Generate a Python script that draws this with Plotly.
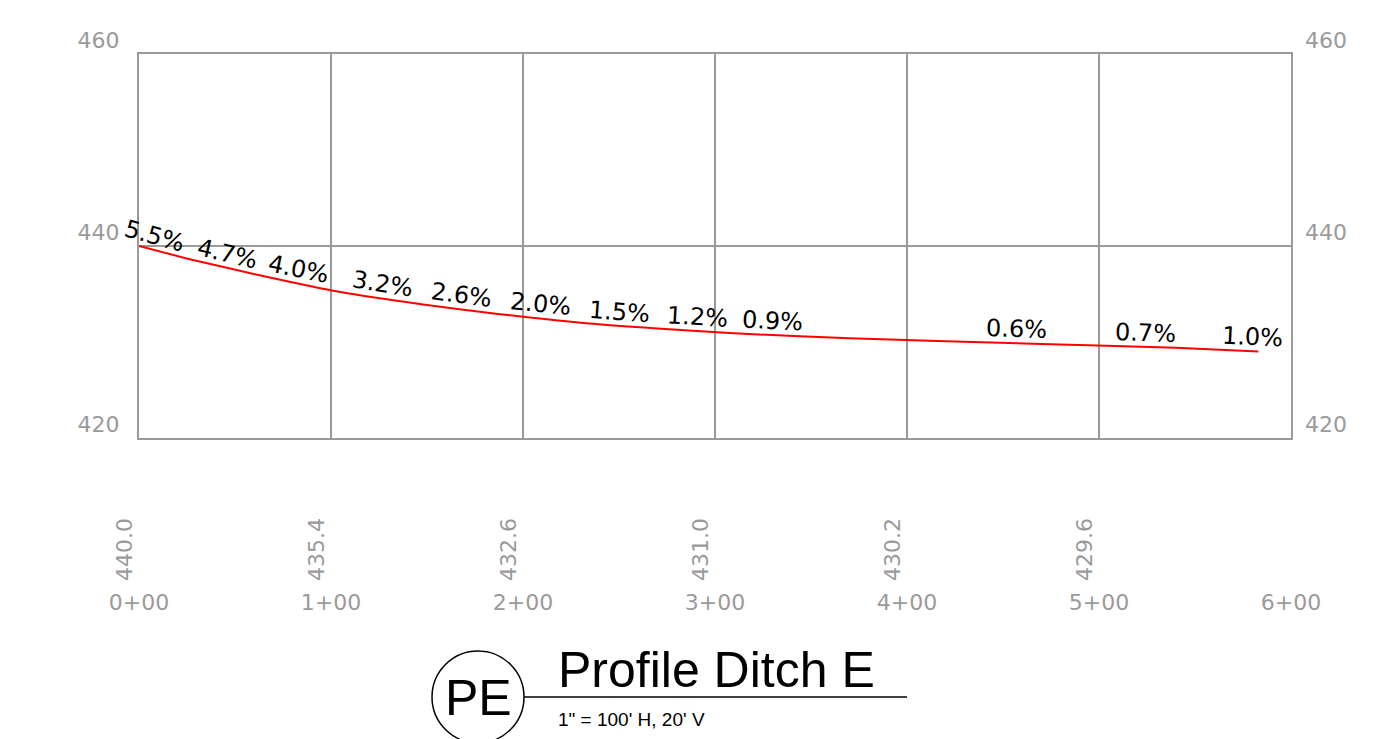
import math
import plotly.graph_objects as go

# Profile vertices (station in ft, elevation in ft)
stations = [0, 27, 64, 105, 148, 188, 230, 270, 310, 370, 470, 540, 583]
elevations = [440.0, 438.6, 436.9, 435.2, 433.9, 432.9, 432.0, 431.4, 430.9, 430.4, 429.8, 429.4, 429.0]

# Slope labels along the profile
slope_labels = ["5.5%", "4.7%", "4.0%", "3.2%", "2.6%", "2.0%", "1.5%", "1.2%", "0.9%", "0.6%", "0.7%", "1.0%"]
slope_values = [5.5, 4.7, 4.0, 3.2, 2.6, 2.0, 1.5, 1.2, 0.9, 0.6, 0.7, 1.0]
slope_label_station = [8, 46, 83, 127, 168, 209, 250, 291, 330, 457, 524, 580]

# Axis ticks
station_ticks = [0, 100, 200, 300, 400, 500, 600]
station_text = ["0+00", "1+00", "2+00", "3+00", "4+00", "5+00", "6+00"]
station_elev = [440.0, 435.4, 432.6, 431.0, 430.2, 429.6]
elev_ticks = [420, 440, 460]

GRAY = "#9a9a9a"
OFF = 8  # page body margin
W, H = 1383, 739
# plot area in page pixels
PL, PR, PT, PB = 139, 1291, 54, 438
L, T = PL - OFF, PT - OFF
R = W - (PR - OFF)
B = H - (PB - OFF)
PW, PH = PR - PL, PB - PT
XR = (0, 600)
YR = (420, 460)
PX_PER_X = PW / (XR[1] - XR[0])
PX_PER_Y = PH / (YR[1] - YR[0])


def interp(s):
    for i in range(len(stations) - 1):
        if stations[i] <= s <= stations[i + 1]:
            t = (s - stations[i]) / (stations[i + 1] - stations[i])
            return elevations[i] + t * (elevations[i + 1] - elevations[i])
    return elevations[-1]


def px_to_paper_x(px):
    return (px - PL) / PW


def px_to_paper_y(py):
    return (PB - py) / PH


fig = go.Figure()
fig.add_trace(go.Scatter(x=stations, y=elevations, mode="lines",
                         line=dict(color="#ff0000", width=2, shape="spline", smoothing=0.6),
                         hoverinfo="skip", showlegend=False))
fig.add_trace(go.Scatter(x=[None], y=[None], yaxis="y2", showlegend=False))

annotations = []
for lab, sv, st in zip(slope_labels, slope_values, slope_label_station):
    ang = math.degrees(math.atan(sv / 100 * PX_PER_Y / PX_PER_X))
    annotations.append(dict(x=st, y=interp(st), text=lab, showarrow=False, textangle=ang,
                            yshift=14, xanchor="center", yanchor="middle",
                            font=dict(family="DejaVu Sans", size=24, color="black")))

for st, ev in zip(station_ticks, station_elev):
    annotations.append(dict(x=st, y=px_to_paper_y(550), yref="paper", text=f"{ev:.1f}",
                            showarrow=False, textangle=-90, xshift=-15,
                            xanchor="center", yanchor="middle",
                            font=dict(family="DejaVu Sans", size=22, color=GRAY)))

# title block
annotations.append(dict(x=px_to_paper_x(556), y=px_to_paper_y(670), xref="paper", yref="paper",
                        text="Profile Ditch E", showarrow=False, xanchor="left", yanchor="middle",
                        font=dict(family="Liberation Sans", size=50, color="black")))
annotations.append(dict(x=px_to_paper_x(556), y=px_to_paper_y(719), xref="paper", yref="paper",
                        text="1\" = 100' H, 20' V", showarrow=False, xanchor="left", yanchor="middle",
                        font=dict(family="Liberation Sans", size=19, color="black")))
annotations.append(dict(x=px_to_paper_x(478), y=px_to_paper_y(698), xref="paper", yref="paper",
                        text="PE", showarrow=False, xanchor="center", yanchor="middle",
                        font=dict(family="Liberation Sans", size=50, color="black")))

shapes = [
    dict(type="circle", xref="paper", yref="paper",
         x0=px_to_paper_x(432), x1=px_to_paper_x(524),
         y0=px_to_paper_y(651), y1=px_to_paper_y(743),
         line=dict(color="black", width=1.5)),
    dict(type="line", xref="paper", yref="paper",
         x0=px_to_paper_x(524), x1=px_to_paper_x(907),
         y0=px_to_paper_y(697), y1=px_to_paper_y(697),
         line=dict(color="black", width=1.5)),
]

fig.update_layout(
    width=W, height=H,
    margin=dict(l=L, r=R, t=T, b=B, pad=0),
    plot_bgcolor="white", paper_bgcolor="white",
    showlegend=False,
    xaxis=dict(range=list(XR), tickvals=station_ticks, ticktext=station_text,
               showgrid=True, gridcolor=GRAY, gridwidth=2, zeroline=False,
               showline=True, linecolor=GRAY, linewidth=2, mirror=True,
               ticks="", ticklabelstandoff=144,
               tickfont=dict(family="DejaVu Sans", size=22, color=GRAY)),
    yaxis=dict(range=list(YR), tickvals=elev_ticks, showgrid=True, gridcolor=GRAY, gridwidth=2,
               zeroline=False, showline=True, linecolor=GRAY, linewidth=2, mirror=True,
               ticks="", ticklabelstandoff=13, ticklabelshift=-14,
               tickfont=dict(family="DejaVu Sans", size=22, color=GRAY)),
    yaxis2=dict(range=list(YR), tickvals=elev_ticks, overlaying="y", side="right",
                showgrid=False, zeroline=False, ticks="", ticklabelstandoff=13, ticklabelshift=-14,
                tickfont=dict(family="DejaVu Sans", size=22, color=GRAY)),
    annotations=annotations,
    shapes=shapes,
)

fig.write_html("out.html")
